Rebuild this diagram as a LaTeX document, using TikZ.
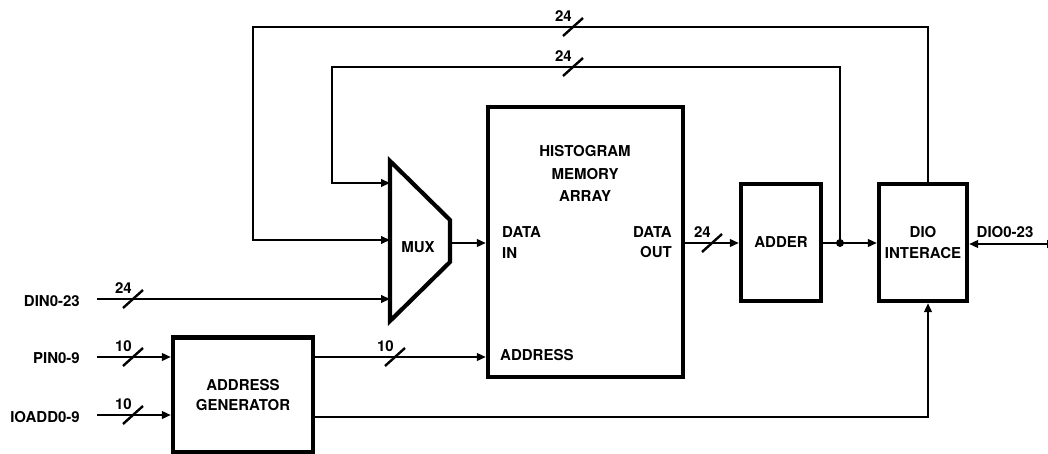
\documentclass[tikz,border=0pt]{standalone}
\usepackage{fontspec}
\setmainfont{TeX Gyre Heros}
\usetikzlibrary{arrows.meta}
\newcommand\diafont{\fontsize{15}{20.5}\bfseries\selectfont}
\newcommand\busmark[3]{%
  \coordinate (#1c) at (#2);
  \draw[slashline] ([shift={(-10,9)}]#1c) -- ([shift={(10,-9)}]#1c);
  \node[lbl, anchor=east] (#1) at ([shift={(-1,-11)}]#1c) {#3};}
\begin{document}
\begin{tikzpicture}[x=1pt,y=-1pt,
  conn/.style={line width=2.4pt, line join=miter},
  arr/.style={conn, -{Triangle[length=9pt,width=7.5pt]}},
  blk/.style={draw, line width=4.2pt, inner sep=0pt, align=center, font=\diafont},
  lbl/.style={inner sep=0pt, font=\diafont},
  slashline/.style={line width=2.4pt}]
\useasboundingbox (0,0) rectangle (1048,454);

% blocks
\node[blk, minimum width=195pt, minimum height=270pt] (mem) at (585.5,242) {};
\node[blk, minimum width=80pt, minimum height=117pt] (adder) at (781,242.5) {ADDER};
\node[blk, minimum width=88pt, minimum height=117pt] (dio) at (923,242.5) {DIO\\INTERACE};
\node[blk, minimum width=140pt, minimum height=115pt] (agen) at (243,395) {ADDRESS\\GENERATOR};

% MUX
\coordinate (mtl) at (390,161);
\coordinate (mtr) at (450,220);
\coordinate (mbr) at (450,262);
\coordinate (mbl) at (390,321);
\draw[line width=4.2pt, line join=miter] (mtl) -- (mtr) -- (mbr) -- (mbl) -- cycle;
\node[lbl] (mux) at (418,247) {MUX};
\coordinate (m1) at (390,183);
\coordinate (m2) at (390,240);
\coordinate (m3) at (390,299);
\coordinate (mo) at (450,243);

% memory texts
\node[lbl] (t1) at (585,151) {HISTOGRAM};
\node[lbl] (t2) at (585,174) {MEMORY};
\node[lbl] (t3) at (585,196) {ARRAY};
\node[lbl, anchor=west] (di1) at (502,232) {DATA};
\node[lbl, anchor=west] (di2) at (502,253) {IN};
\node[lbl, anchor=east] (do1) at (672,232) {DATA};
\node[lbl, anchor=east] (do2) at (672,252) {OUT};
\node[lbl, anchor=west] (addr) at (500,355) {ADDRESS};

% external labels
\node[lbl, anchor=east] (ldin) at (80,301) {DIN0-23};
\node[lbl, anchor=east] (lpin) at (80,358) {PIN0-9};
\node[lbl, anchor=east] (lio) at (80,417) {IOADD0-9};
\node[lbl] (ldio) at (1005,232) {DIO0-23};

\coordinate (din) at (97,299);
\coordinate (pin) at (97,357);
\coordinate (ioadd) at (97,415);
\coordinate (j) at (840,243);
\coordinate (dioext) at (1056,244);
\coordinate (agb) at (0,417);

% connectors
\draw[arr] ([xshift=5pt]dio.north) |- (253,27) |- (m2);
\draw[arr] (j) |- (332,67) |- (m1);
\draw[arr] (din) -- (m3);
\draw[arr] (mo) -- (mem.west |- mo);
\draw[arr] (mem.east |- mo) -- (adder.west |- mo);
\draw[arr] (adder.east |- mo) -- (dio.west |- mo);
\fill (j) circle (4pt);
\draw[conn, {Triangle[length=9pt,width=7.5pt]}-{Triangle[length=9pt,width=7.5pt]}] (dio.east |- dioext) -- (dioext);
\draw[arr] (pin) -- (agen.west |- pin);
\draw[arr] (ioadd) -- (agen.west |- ioadd);
\draw[arr] (agen.east |- pin) -- (mem.west |- pin);
\draw[arr] (agen.east |- agb) -| ([xshift=5pt]dio.south);

% bus marks
\busmark{b1}{573,27}{24}
\busmark{b2}{573,67}{24}
\busmark{b3}{133,299}{24}
\busmark{b4}{712,243}{24}
\busmark{b5}{133,357}{10}
\busmark{b6}{133,415}{10}
\busmark{b7}{395,357}{10}
\end{tikzpicture}
\end{document}
